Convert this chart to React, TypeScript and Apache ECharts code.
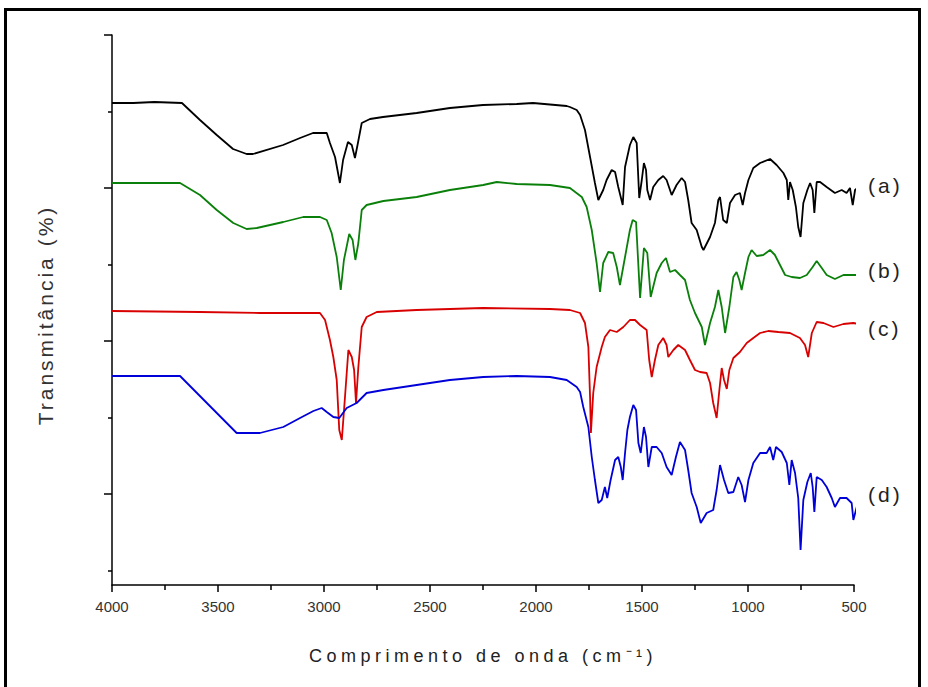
import React, { useEffect, useRef } from "react";
import * as echarts from "echarts";

// Wavenumber (cm-1) vs. transmittance (offset, arbitrary units)
const spectrumA: number[][] = [
  [4000, 482], [3900, 482], [3800, 483], [3670, 482], [3585, 465], [3506, 450], [3429, 436],
  [3365, 431], [3335, 431], [3193, 440], [3113, 447], [3052, 452], [2987, 452], [2972, 442],
  [2948, 428], [2925, 402], [2910, 425], [2887, 443], [2869, 440], [2854, 427], [2840, 442],
  [2822, 462], [2783, 466], [2722, 468], [2563, 472], [2406, 477], [2250, 480], [2091, 481],
  [2014, 482], [1855, 479], [1840, 478], [1808, 475], [1792, 470], [1769, 455], [1745, 428],
  [1722, 402], [1706, 385], [1683, 395], [1667, 405], [1643, 415], [1627, 413], [1612, 398],
  [1591, 380], [1580, 418], [1557, 440], [1541, 448], [1525, 442], [1513, 387], [1501, 405],
  [1491, 422], [1481, 415], [1475, 395], [1462, 385], [1447, 398], [1423, 405], [1400, 409],
  [1384, 405], [1360, 390], [1337, 400], [1313, 407], [1297, 403], [1282, 385], [1266, 362],
  [1242, 355], [1218, 338], [1210, 335], [1179, 348], [1156, 362], [1140, 385], [1132, 388],
  [1117, 365], [1100, 362], [1085, 382], [1061, 390], [1038, 392], [1025, 380], [1014, 392],
  [998, 405], [975, 417], [943, 422], [896, 426], [865, 420], [833, 412], [817, 405],
  [810, 385], [802, 403], [789, 395], [774, 378], [763, 358], [752, 348], [739, 382],
  [720, 395], [707, 402], [695, 395], [687, 372], [676, 403], [660, 403], [629, 398],
  [590, 392], [558, 395], [535, 392], [519, 397], [506, 380], [495, 395], [479, 398],
];

const spectrumB: number[][] = [
  [4000, 402], [3800, 402], [3679, 402], [3585, 390], [3506, 375], [3428, 362], [3365, 356],
  [3317, 357], [3192, 363], [3098, 368], [3019, 368], [2987, 365], [2964, 352], [2940, 328],
  [2921, 295], [2906, 325], [2881, 351], [2865, 345], [2852, 325], [2838, 342], [2822, 375],
  [2799, 380], [2720, 384], [2563, 388], [2406, 395], [2249, 400], [2185, 403], [2091, 401],
  [1934, 400], [1840, 397], [1784, 388], [1761, 378], [1737, 355], [1714, 322], [1698, 293],
  [1683, 322], [1659, 333], [1636, 332], [1619, 318], [1604, 300], [1580, 328], [1557, 355],
  [1544, 365], [1528, 363], [1509, 287], [1491, 337], [1475, 332], [1459, 288], [1431, 312],
  [1407, 322], [1387, 327], [1368, 313], [1344, 315], [1321, 310], [1297, 305], [1274, 285],
  [1250, 272], [1234, 265], [1218, 258], [1203, 240], [1179, 262], [1156, 278], [1140, 295],
  [1124, 278], [1108, 252], [1088, 278], [1069, 308], [1054, 313], [1041, 305], [1030, 295],
  [1014, 312], [998, 328], [983, 335], [959, 329], [928, 330], [896, 335], [873, 330],
  [849, 320], [825, 310], [794, 308], [755, 307], [723, 310], [695, 318], [676, 324],
  [652, 317], [629, 310], [590, 306], [550, 310], [511, 310], [479, 310],
];

const spectrumC: number[][] = [
  [4000, 274], [3585, 273], [3300, 272], [3113, 272], [3019, 272], [2995, 265], [2972, 245],
  [2956, 228], [2940, 205], [2928, 155], [2916, 145], [2901, 188], [2885, 235], [2869, 228],
  [2858, 215], [2849, 182], [2838, 218], [2822, 258], [2799, 268], [2751, 273], [2563, 275],
  [2249, 277], [1934, 276], [1840, 275], [1792, 272], [1769, 262], [1753, 238], [1745, 188],
  [1741, 152], [1730, 192], [1714, 218], [1690, 238], [1675, 248], [1651, 255], [1619, 253],
  [1588, 258], [1557, 265], [1533, 265], [1509, 260], [1478, 255], [1466, 225], [1454, 208],
  [1439, 225], [1423, 240], [1400, 247], [1384, 240], [1376, 228], [1352, 235], [1329, 240],
  [1297, 235], [1274, 225], [1250, 215], [1226, 213], [1195, 212], [1179, 202], [1164, 182],
  [1148, 167], [1135, 195], [1124, 217], [1113, 205], [1100, 196], [1088, 215], [1069, 227],
  [1038, 233], [1006, 242], [975, 247], [943, 252], [904, 254], [857, 253], [802, 252],
  [755, 247], [731, 240], [716, 228], [699, 252], [676, 263], [644, 262], [597, 258],
  [550, 261], [503, 262], [479, 261],
];

const spectrumD: number[][] = [
  [4000, 209], [3679, 209], [3412, 152], [3302, 152], [3192, 158], [3113, 167], [3050, 174],
  [3011, 177], [2987, 173], [2956, 168], [2928, 167], [2893, 177], [2846, 182], [2799, 192],
  [2720, 195], [2563, 200], [2406, 205], [2249, 208], [2091, 209], [1934, 208], [1855, 205],
  [1808, 198], [1792, 193], [1777, 178], [1753, 158], [1737, 128], [1722, 105],
  [1706, 82], [1690, 85], [1675, 98], [1664, 87], [1648, 105], [1627, 125], [1612, 128],
  [1600, 118], [1591, 105], [1580, 132], [1569, 155], [1557, 168], [1541, 180], [1528, 175],
  [1517, 142], [1506, 132], [1491, 158], [1481, 148], [1470, 118], [1454, 138], [1431, 138],
  [1407, 132], [1384, 118], [1360, 110], [1340, 128], [1321, 143], [1297, 135], [1282, 115],
  [1266, 92], [1242, 78], [1223, 62], [1195, 72], [1164, 75], [1148, 95], [1132, 120],
  [1113, 105], [1093, 92], [1069, 93], [1046, 108], [1030, 100], [1014, 83], [998, 105],
  [975, 122], [943, 132], [912, 132], [896, 138], [881, 125], [868, 138], [841, 133],
  [817, 122], [805, 100], [794, 125], [778, 112], [763, 87], [752, 35], [739, 85],
  [720, 103], [704, 112], [695, 98], [687, 73], [676, 108], [652, 105], [629, 98],
  [605, 87], [590, 78], [566, 87], [535, 87], [511, 82], [503, 65], [487, 78], [474, 80],
];

const spectra = [spectrumA, spectrumB, spectrumC, spectrumD];
const curveLabels = ["(a)", "(b)", "(c)", "(d)"];
const curveColors = ["#000000", "#0a800a", "#d80000", "#0000d8"];

const yMajorTicks = [550, 397, 244, 91];
const yMinorTicks = [473.5, 320.5, 167.5, 14.5];

const xTitle = "Comprimento de onda (cm⁻¹)";
const yTitle = "Transmitância (%)";

const FONT = "'Liberation Sans', Arial, sans-serif";

export default function App() {
  const ref = useRef<HTMLDivElement | null>(null);

  useEffect(() => {
    if (!ref.current) return;
    const chart = echarts.init(ref.current, null, { renderer: "svg" });
    const labelY = [185, 270, 328, 494];

    chart.setOption({
      animation: false,
      backgroundColor: "#ffffff",
      grid: { left: 112, right: 74, top: 35, bottom: 102, containLabel: false },
      xAxis: {
        type: "value",
        inverse: true,
        min: 500,
        max: 4000,
        interval: 500,
        name: xTitle,
        nameLocation: "middle",
        nameGap: 62,
        nameTextStyle: { fontFamily: FONT, fontSize: 18, color: "#222" },
        axisLine: { show: true, onZero: false, lineStyle: { color: "#000", width: 1.5 } },
        axisTick: { show: true, length: 7, lineStyle: { color: "#000", width: 1.5 } },
        minorTick: { show: true, splitNumber: 2, length: 5, lineStyle: { color: "#000", width: 1.5 } },
        axisLabel: {
          fontFamily: FONT,
          fontSize: 15,
          color: "#333",
          margin: 14,
          formatter: (v: number) => String(v),
        },
        splitLine: { show: false },
      },
      yAxis: [
        {
          type: "value",
          min: 0,
          max: 550,
          axisLine: { show: true, onZero: false, lineStyle: { color: "#000", width: 1.5 } },
          axisTick: { show: true, length: 8, customValues: yMajorTicks, lineStyle: { color: "#000", width: 1.5 } },
          axisLabel: { show: false },
          splitLine: { show: false },
        },
        {
          type: "value",
          position: "left",
          min: 0,
          max: 550,
          axisLine: { show: false },
          axisTick: { show: true, length: 4, customValues: yMinorTicks, lineStyle: { color: "#000", width: 1.5 } },
          axisLabel: { show: false },
          splitLine: { show: false },
        },
      ],
      series: spectra.map((d, i) => ({
        type: "line",
        name: curveLabels[i],
        data: d,
        xAxisIndex: 0,
        yAxisIndex: 0,
        showSymbol: false,
        symbol: "none",
        clip: false,
        silent: true,
        lineStyle: { color: curveColors[i], width: 1.8 },
      })),
      graphic: [
        {
          type: "rect",
          shape: { x: 5.5, y: 9.5, width: 914, height: 690 },
          style: { fill: "none", stroke: "#000", lineWidth: 3 },
          silent: true,
        },
        {
          type: "text",
          x: 45,
          y: 315,
          rotation: Math.PI / 2,
          style: {
            text: yTitle,
            fontFamily: FONT,
            fontSize: 21,
            fill: "#333",
            align: "center",
            verticalAlign: "middle",
          },
        },
        ...curveLabels.map((t, i) => ({
          type: "text",
          x: 868,
          y: labelY[i],
          style: {
            text: t,
            fontFamily: FONT,
            fontSize: 21,
            fill: "#222",
            align: "left",
            verticalAlign: "middle",
          },
        })),
      ],
    });

    // widen the spacing of the titles like the reference's rendering
    const svg = ref.current.querySelector("svg");
    if (svg) {
      svg.querySelectorAll("text").forEach((t) => {
        const s = t.textContent || "";
        if (s === xTitle) t.style.letterSpacing = "4.5px";
        else if (s === yTitle) t.style.letterSpacing = "3px";
        else if (curveLabels.indexOf(s) >= 0) t.style.letterSpacing = "3px";
      });
    }

    return () => chart.dispose();
  }, []);

  return (
    <div
      ref={ref}
      style={{ position: "fixed", left: 0, top: 0, width: 928, height: 687, background: "#fff" }}
    />
  );
}
